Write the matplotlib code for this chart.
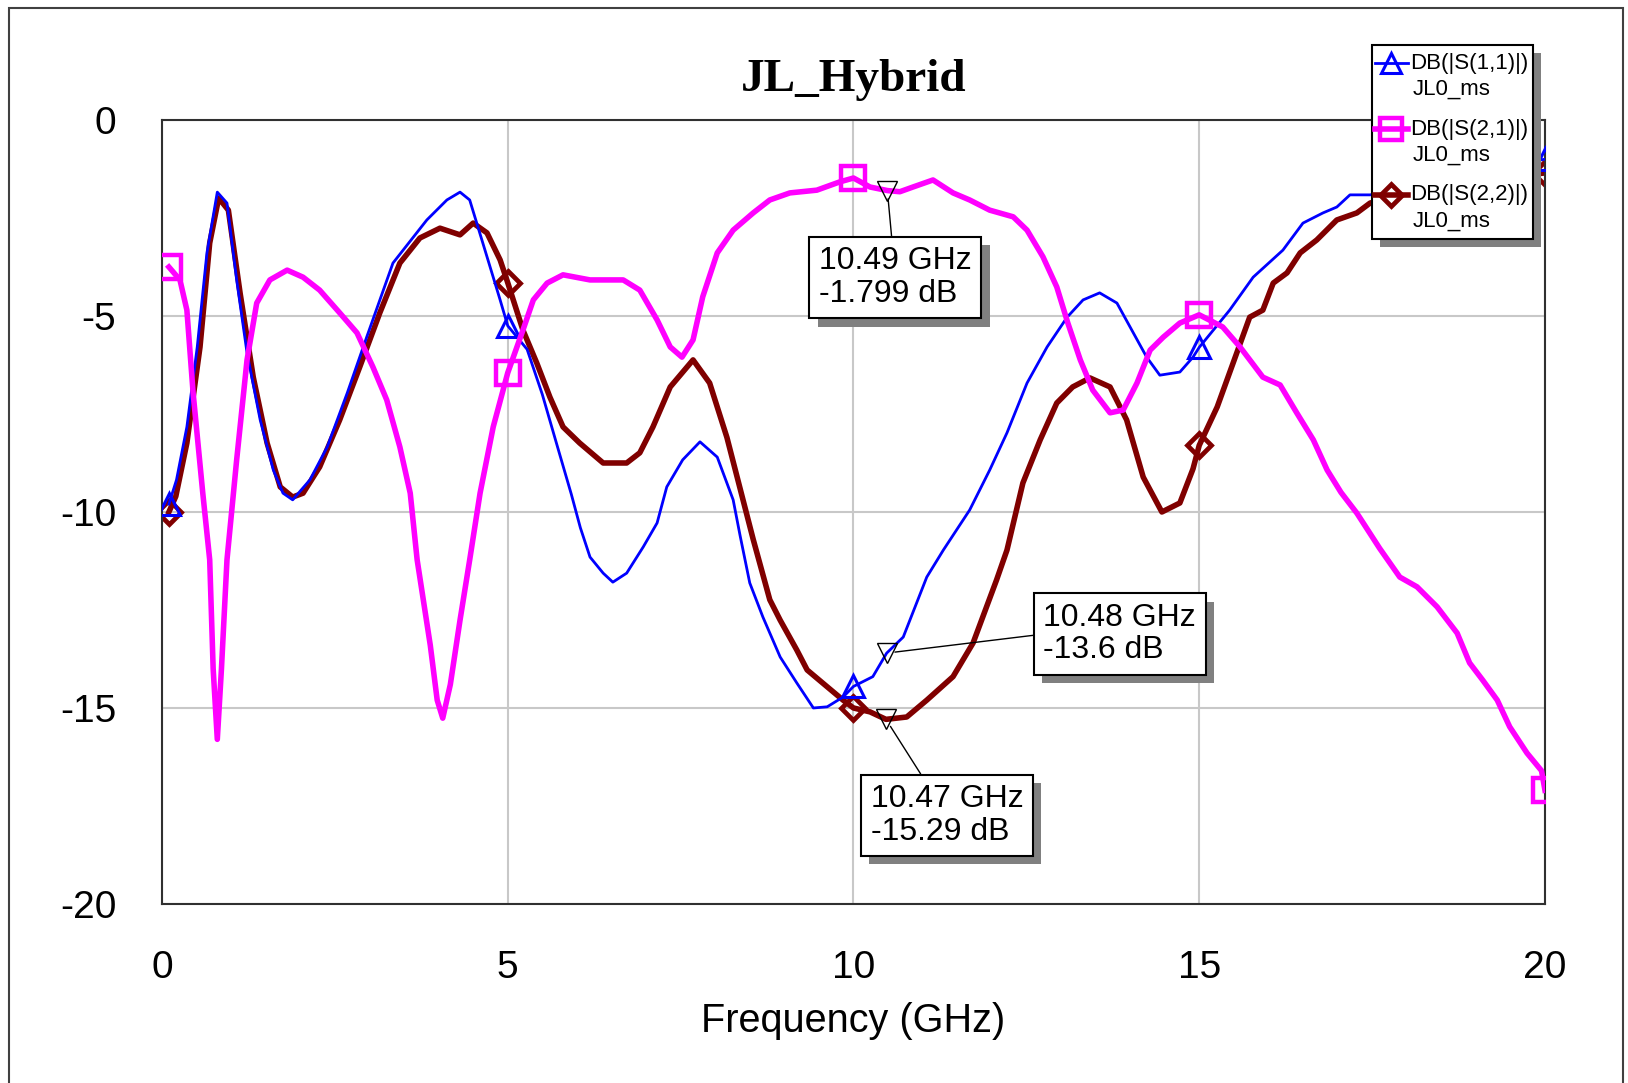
import matplotlib.pyplot as plt
import matplotlib.patheffects as pe
from matplotlib.lines import Line2D
from matplotlib.patches import Rectangle

plt.rcParams['font.family'] = ['Liberation Sans', 'DejaVu Sans']
plt.rcParams['axes.unicode_minus'] = False

# DB(|S(1,1)|) - blue, thin
FREQ_S11 = [0.1, 0.21, 0.36, 0.51, 0.65, 0.80, 0.94, 1.08, 1.23, 1.42, 1.61, 1.75, 1.89,
            2.14, 2.39, 2.68, 2.96, 3.34, 3.83, 4.12, 4.31, 4.45, 4.64, 4.89, 5.0, 5.28,
            5.50, 5.73, 5.92, 6.05, 6.19, 6.38, 6.52, 6.72, 6.96, 7.16, 7.30, 7.53, 7.78,
            8.03, 8.26, 8.36, 8.50, 8.69, 8.94, 9.18, 9.42, 9.62, 9.85, 10.0, 10.28, 10.48,
            10.72, 11.06, 11.30, 11.68, 11.97, 12.22, 12.51, 12.80, 13.09, 13.32, 13.56,
            13.81, 14.00, 14.24, 14.43, 14.72, 14.91, 15.0, 15.44, 15.78, 16.21, 16.50,
            16.79, 16.99, 17.18, 17.47, 18.0, 18.5, 19.0, 19.5, 20.0]
DB_S11 = [-9.8, -9.18, -7.83, -5.79, -3.39, -1.84, -2.12, -4.08, -5.94, -7.65, -8.93, -9.52,
          -9.69, -9.18, -8.34, -6.96, -5.54, -3.65, -2.55, -2.04, -1.84, -2.04, -3.14, -4.59,
          -5.25, -5.85, -7.0, -8.4, -9.55, -10.4, -11.15, -11.56, -11.79, -11.56, -10.89,
          -10.28, -9.36, -8.67, -8.21, -8.6, -9.69, -10.6, -11.81, -12.68, -13.7, -14.36,
          -15.0, -14.97, -14.72, -14.45, -14.2, -13.6, -13.19, -11.66, -10.97, -9.95, -8.93,
          -7.98, -6.71, -5.79, -5.03, -4.59, -4.41, -4.67, -5.28, -6.05, -6.51, -6.43, -6.05,
          -5.8, -4.85, -4.01, -3.32, -2.63, -2.37, -2.22, -1.91, -1.91, -1.75, -1.55, -1.35,
          -1.15, -1.0]

# DB(|S(2,1)|) - magenta, thick
FREQ_S21 = [0.1, 0.26, 0.36, 0.45, 0.59, 0.69, 0.74, 0.80, 0.86, 0.94, 1.08, 1.23, 1.37,
            1.56, 1.81, 2.04, 2.28, 2.57, 2.82, 3.05, 3.25, 3.44, 3.59, 3.69, 3.88, 3.98,
            4.06, 4.17, 4.31, 4.45, 4.60, 4.79, 5.0, 5.22, 5.37, 5.57, 5.80, 6.19, 6.67,
            6.91, 7.16, 7.35, 7.52, 7.68, 7.82, 8.03, 8.26, 8.55, 8.79, 9.08, 9.47, 9.80,
            10.0, 10.24, 10.49, 10.67, 10.86, 11.15, 11.44, 11.68, 11.97, 12.31, 12.51,
            12.74, 12.94, 13.10, 13.28, 13.46, 13.71, 13.90, 14.10, 14.29, 14.48, 14.72,
            15.0, 15.34, 15.59, 15.92, 16.17, 16.41, 16.65, 16.85, 17.05, 17.28, 17.61,
            17.90, 18.15, 18.44, 18.73, 18.91, 19.10, 19.31, 19.49, 19.74, 19.95, 20.0]
DB_S21 = [-3.75, -4.08, -4.85, -6.96, -9.52, -11.22, -14.0, -15.8, -14.0, -11.22, -8.67,
          -6.12, -4.67, -4.08, -3.83, -4.01, -4.34, -4.92, -5.43, -6.30, -7.14, -8.34, -9.52,
          -11.22, -13.4, -14.8, -15.26, -14.4, -12.76, -11.22, -9.52, -7.83, -6.45, -5.36,
          -4.59, -4.16, -3.95, -4.08, -4.08, -4.34, -5.10, -5.79, -6.05, -5.61, -4.51, -3.39,
          -2.81, -2.37, -2.04, -1.86, -1.79, -1.58, -1.48, -1.71, -1.80, -1.83, -1.71, -1.53,
          -1.86, -2.04, -2.30, -2.47, -2.81, -3.49, -4.26, -5.18, -6.12, -6.89, -7.47, -7.40,
          -6.71, -5.87, -5.54, -5.18, -4.97, -5.28, -5.79, -6.56, -6.76, -7.47, -8.16, -8.93,
          -9.5, -10.03, -10.93, -11.66, -11.91, -12.42, -13.09, -13.85, -14.29, -14.80,
          -15.48, -16.15, -16.6, -17.1]

# DB(|S(2,2)|) - dark red, thick
FREQ_S22 = [0.1, 0.2, 0.36, 0.55, 0.69, 0.82, 0.96, 1.13, 1.32, 1.52, 1.71, 1.89, 2.04,
            2.28, 2.57, 2.86, 3.15, 3.44, 3.73, 4.02, 4.31, 4.50, 4.70, 4.89, 5.0, 5.22,
            5.42, 5.61, 5.80, 6.04, 6.38, 6.72, 6.91, 7.10, 7.35, 7.68, 7.92, 8.17, 8.36,
            8.55, 8.79, 8.94, 9.18, 9.33, 9.62, 9.85, 10.0, 10.24, 10.47, 10.77, 11.06,
            11.44, 11.73, 12.07, 12.22, 12.45, 12.70, 12.94, 13.17, 13.42, 13.71, 13.95,
            14.19, 14.46, 14.72, 14.91, 15.0, 15.26, 15.49, 15.73, 15.92, 16.07, 16.27,
            16.46, 16.70, 16.99, 17.28, 17.47, 18.0, 18.5, 19.0, 19.5, 20.0]
DB_S22 = [-10.0, -9.6, -8.24, -5.79, -3.14, -1.99, -2.30, -4.42, -6.56, -8.24, -9.36, -9.62,
          -9.52, -8.85, -7.65, -6.30, -4.92, -3.65, -3.01, -2.76, -2.93, -2.63, -2.88, -3.57,
          -4.15, -5.36, -6.20, -7.07, -7.83, -8.24, -8.75, -8.75, -8.49, -7.83, -6.81, -6.12,
          -6.71, -8.1, -9.4, -10.7, -12.24, -12.76, -13.52, -14.03, -14.46, -14.80, -15.0,
          -15.10, -15.29, -15.23, -14.80, -14.2, -13.34, -11.73, -10.97, -9.26, -8.16, -7.22,
          -6.81, -6.58, -6.81, -7.65, -9.11, -10.0, -9.77, -8.9, -8.3, -7.32, -6.20, -5.03,
          -4.85, -4.16, -3.90, -3.39, -3.06, -2.55, -2.37, -2.12, -1.85, -1.7, -1.55, -1.45,
          -1.35]

MARKER_FREQS = [0.1, 5.0, 10.0, 15.0, 20.0]

# marker readouts
READ_FREQS = [10.49, 10.48, 10.47]
READ_DBS = [-1.799, -13.6, -15.29]

LABELS = ['DB(|S(1,1)|)', 'DB(|S(2,1)|)', 'DB(|S(2,2)|)']
SOURCE = 'JL0_ms'


def marker_index(freqs):
    return [i for i, f in enumerate(freqs) if f in MARKER_FREQS]


def shadow():
    return [pe.SimplePatchShadow(offset=(6, -6), shadow_rgbFace='#808080', alpha=1.0),
            pe.Normal()]


def main():
    fig = plt.figure(figsize=(16.28, 10.83), dpi=100)
    fig.add_artist(Rectangle((9 / 1628, -0.05), 1614 / 1628, 1.05 - 8 / 1083,
                             transform=fig.transFigure, fill=False,
                             ec='#404040', lw=1.5))
    ax = fig.add_axes([0.0995, 0.1653, 0.8495, 0.7239])

    styles = {
        'S11': dict(color='#0000ff', lw=2.0, marker='^', ms=16, mew=2.2),
        'S21': dict(color='#ff00ff', lw=4.0, marker='s', ms=17, mew=3.2),
        'S22': dict(color='#800000', lw=4.0, marker='D', ms=12, mew=3.4),
    }
    series = {
        'S11': (FREQ_S11, DB_S11),
        'S21': (FREQ_S21, DB_S21),
        'S22': (FREQ_S22, DB_S22),
    }
    # draw order: red below, blue, magenta on top
    zorders = {'S22': 2, 'S11': 3, 'S21': 4}
    for key in ['S22', 'S11', 'S21']:
        freqs, dbs = series[key]
        ax.plot(freqs, dbs, mfc='none', markevery=marker_index(freqs),
                zorder=zorders[key], solid_joinstyle='round', **styles[key])

    ax.set_xlim(0, 20)
    ax.set_ylim(-20, 0)
    ax.set_xticks([0, 5, 10, 15, 20])
    ax.set_yticks([0, -5, -10, -15, -20])
    ax.tick_params(length=0, labelsize=28, pad=33)
    ax.grid(color='#c8c8c8', lw=1.5)
    ax.set_axisbelow(True)
    for spine in ax.spines.values():
        spine.set_color('#303030')
        spine.set_linewidth(1.5)
    ax.set_title('JL_Hybrid', fontsize=34, fontweight='bold',
                 family=['Liberation Serif', 'DejaVu Serif'], pad=21)
    ax.set_xlabel('Frequency (GHz)', fontsize=28.5, labelpad=12)

    # marker readout boxes
    offsets = [(8, -87), (233, 19), (61, -96)]
    relpos = [(0.5, 0.5), (0.0, 0.5), (0.5, 0.5)]
    for f, v, off, rp in zip(READ_FREQS, READ_DBS, offsets, relpos):
        ax.plot(f, v, marker='v', ms=15, mfc='none', mec='black', mew=1.0, zorder=6)
        ann = ax.annotate('{:g} GHz\n{:g} dB'.format(f, v), xy=(f, v), xytext=off,
                          textcoords='offset pixels', ha='center', va='center',
                          multialignment='left', fontsize=23, linespacing=1.1,
                          bbox=dict(boxstyle='square,pad=0.3', fc='white', ec='black', lw=1.5),
                          arrowprops=dict(arrowstyle='-', color='black', lw=1.0,
                                          shrinkA=0, shrinkB=6, relpos=rp),
                          zorder=7)
        ann.get_bbox_patch().set_path_effects(shadow())

    # legend box
    lax = fig.add_axes([0.8428, 0.7793, 0.0989, 0.1791])
    lax.set_xlim(0, 1)
    lax.set_ylim(0, 1)
    lax.axis('off')
    box = Rectangle((0, 0), 1, 1, transform=lax.transAxes, fc='white', ec='black',
                    lw=1.5, clip_on=False)
    box.set_path_effects(shadow())
    lax.add_patch(box)
    for i, (key, label) in enumerate(zip(['S11', 'S21', 'S22'], LABELS)):
        y = 0.907 - i * 0.34
        st = styles[key]
        lax.add_line(Line2D([0.02, 0.22], [y, y], color=st['color'], lw=st['lw'],
                            clip_on=False))
        lax.add_line(Line2D([0.12], [y], color=st['color'], marker=st['marker'],
                            ms=st['ms'] * 0.9, mew=st['mew'], mfc='none', clip_on=False))
        lax.text(0.235, y, label, fontsize=16, va='center', ha='left', clip_on=False)
        lax.text(0.25, y - 0.135, SOURCE, fontsize=16, va='center', ha='left',
                 clip_on=False)

    fig.savefig('out.png', dpi=100)


if __name__ == "__main__":
    main()
